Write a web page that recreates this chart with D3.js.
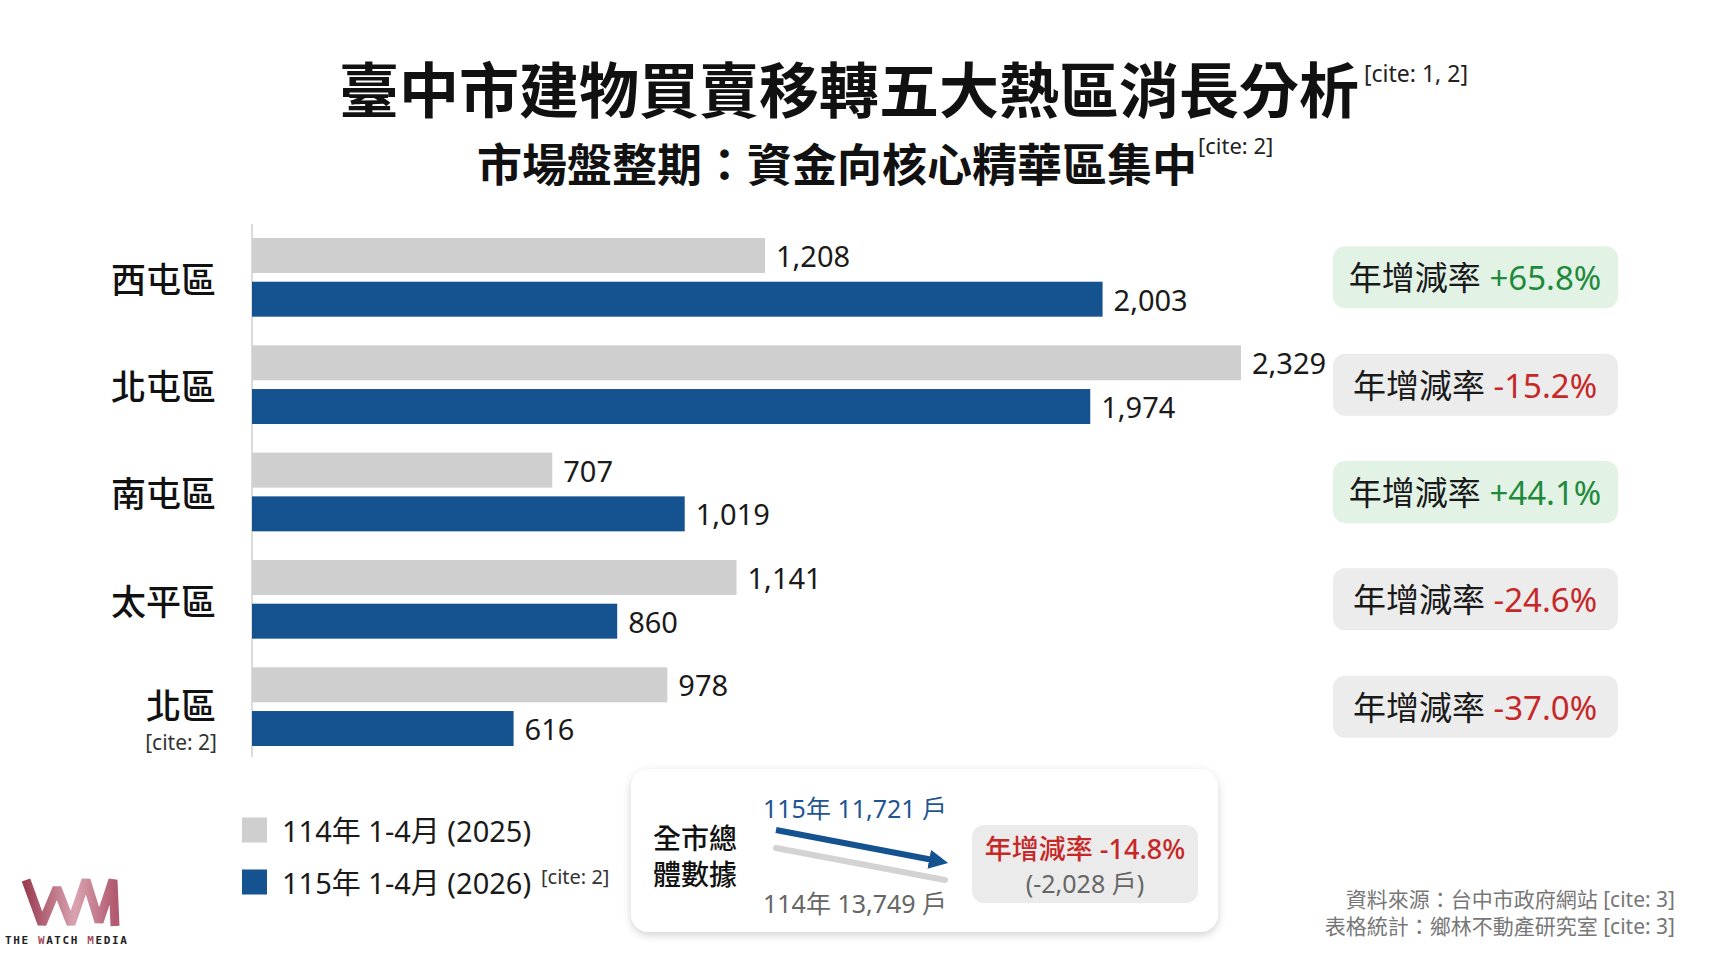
<!DOCTYPE html>
<html>
<head>
<meta charset="utf-8">
<script src="https://cdn.jsdelivr.net/npm/d3@7"></script>
<style>
  html, body { margin: 0; padding: 0; background: #fff; }
  svg { display: block; font-family: "Noto Sans", "Noto Sans CJK TC", sans-serif; }
</style>
</head>
<body>
<svg id="chart" width="1713" height="956"></svg>
<script>
// data
const districts = ['西屯區', '北屯區', '南屯區', '太平區', '北區'];
const sales2025 = [1208, 2329, 707, 1141, 978];
const sales2026 = [2003, 1974, 1019, 860, 616];
const seriesNames = ['114年 1-4月 (2025)', '115年 1-4月 (2026)'];
const total2025 = 13749;
const total2026 = 11721;

const W = 1713, H = 956;
const gray = '#cfcfcf', blue = '#155290';
const loc = d3.formatLocale({ decimal: '.', thousands: ',', grouping: [3], currency: ['', ''], minus: '-' });
const fmt = loc.format(',');
const pct = d => (d >= 0 ? '+' : '') + loc.format('.1f')(d * 100) + '%';

const svg = d3.select('#chart');

// drop shadow for the summary card
const defs = svg.append('defs');
const f = defs.append('filter').attr('id', 'shadow').attr('x', '-10%').attr('y', '-20%').attr('width', '120%').attr('height', '150%');
f.append('feDropShadow').attr('dx', 0).attr('dy', 3).attr('stdDeviation', 4).attr('flood-color', '#000').attr('flood-opacity', 0.18);
defs.append('marker').attr('id', 'arrow').attr('viewBox', '0 0 10 10').attr('refX', 2).attr('refY', 5)
  .attr('markerWidth', 3.2).attr('markerHeight', 3.2).attr('orient', 'auto')
  .append('path').attr('d', 'M0,0L10,5L0,10z').attr('fill', blue);
const lg = defs.append('linearGradient').attr('id', 'logoGrad').attr('x1', 0).attr('x2', 1);
lg.append('stop').attr('offset', '0%').attr('stop-color', '#9c3f55');
lg.append('stop').attr('offset', '55%').attr('stop-color', '#d9a3b0');
lg.append('stop').attr('offset', '100%').attr('stop-color', '#b25a70');

// titles
svg.append('text').attr('x', 849).attr('y', 86).attr('text-anchor', 'middle')
  .attr('dominant-baseline', 'central').attr('font-size', 60).attr('font-weight', 700)
  .attr('font-family', '"Noto Sans CJK TC", sans-serif').attr('fill', '#111')
  .text('臺中市建物買賣移轉五大熱區消長分析');
svg.append('text').attr('x', 1364).attr('y', 82).attr('font-size', 23).attr('fill', '#222')
  .attr('font-family', '"Noto Sans", sans-serif').text('[cite: 1, 2]');

svg.append('text').attr('x', 837).attr('y', 162).attr('text-anchor', 'middle')
  .attr('dominant-baseline', 'central').attr('font-size', 45).attr('font-weight', 700)
  .attr('font-family', '"Noto Sans CJK TC", sans-serif').attr('fill', '#111')
  .text('市場盤整期：資金向核心精華區集中');
svg.append('text').attr('x', 1198).attr('y', 154).attr('font-size', 22).attr('fill', '#222')
  .attr('font-family', '"Noto Sans", sans-serif').text('[cite: 2]');

// scales
const x = d3.scaleLinear().domain([0, 2329]).range([252, 1241]);
const y = d3.scaleBand().domain(districts).range([238, 746]).paddingInner(0.267).paddingOuter(0);
const ySub = d3.scaleBand().domain(['2025', '2026']).range([0, y.bandwidth()]).paddingInner(0.2);

const rows = districts.map((d, i) => ({ name: d, v25: sales2025[i], v26: sales2026[i], rate: sales2026[i] / sales2025[i] - 1 }));

// axis line
svg.append('line').attr('x1', 252).attr('x2', 252).attr('y1', 224).attr('y2', 757)
  .attr('stroke', '#dcdcdc').attr('stroke-width', 2);

const g = svg.append('g').selectAll('g').data(rows).join('g')
  .attr('transform', d => `translate(0,${y(d.name)})`);

const bars = [
  { key: '2025', val: d => d.v25, color: gray },
  { key: '2026', val: d => d.v26, color: blue }
];
bars.forEach(b => {
  g.append('rect').attr('x', x(0)).attr('y', ySub(b.key))
    .attr('width', d => x(b.val(d)) - x(0)).attr('height', ySub.bandwidth()).attr('fill', b.color);
  g.append('text').attr('x', d => x(b.val(d)) + 11).attr('y', ySub(b.key) + ySub.bandwidth() / 2)
    .attr('dominant-baseline', 'central').attr('font-size', 29).attr('fill', '#1a1a1a')
    .text(d => fmt(b.val(d)));
});

// category labels
g.append('text').attr('x', 216).attr('y', d => y.bandwidth() / 2 + (d.name === '北區' ? -3 : 0))
  .attr('text-anchor', 'end').attr('dominant-baseline', 'central')
  .attr('font-size', 35).attr('font-weight', 500).attr('fill', '#111')
  .attr('font-family', '"Noto Sans CJK TC", sans-serif')
  .text(d => d.name);
g.filter(d => d.name === '北區').append('text').attr('x', 217).attr('y', y.bandwidth() / 2 + 35)
  .attr('text-anchor', 'end').attr('dominant-baseline', 'central')
  .attr('font-size', 21).attr('fill', '#333').text('[cite: 2]');

// growth badges
const badge = g.append('g').attr('transform', `translate(1333,${y.bandwidth() / 2 - 31})`);
badge.append('rect').attr('width', 285).attr('height', 62).attr('rx', 12)
  .attr('fill', d => d.rate >= 0 ? '#e2f3e6' : '#ececec');
const bt = badge.append('text').attr('x', 142).attr('y', 31).attr('text-anchor', 'middle')
  .attr('dominant-baseline', 'central').attr('font-size', 33);
bt.append('tspan').attr('fill', '#1a1a1a').text('年增減率 ');
bt.append('tspan').attr('fill', d => d.rate >= 0 ? '#1f8a3b' : '#c62828').text(d => pct(d.rate));

// legend
const leg = svg.append('g').selectAll('g').data(seriesNames).join('g')
  .attr('transform', (d, i) => `translate(242,${830 + i * 52})`);
leg.append('rect').attr('y', -12.5).attr('width', 25).attr('height', 25).attr('fill', (d, i) => i ? blue : gray);
leg.append('text').attr('x', 40).attr('dominant-baseline', 'central').attr('font-size', 29)
  .attr('fill', '#1a1a1a').text(d => d);
leg.filter((d, i) => i === 1).append('text').attr('x', 299).attr('y', -6).attr('dominant-baseline', 'central')
  .attr('font-size', 20).attr('fill', '#333').text('[cite: 2]');

// summary card
const card = svg.append('g');
card.append('rect').attr('x', 631).attr('y', 769).attr('width', 587).attr('height', 163).attr('rx', 18)
  .attr('fill', '#fff').attr('filter', 'url(#shadow)');
card.selectAll('text.lab').data(['全市總', '體數據']).join('text').attr('class', 'lab')
  .attr('x', 653).attr('y', (d, i) => 837 + i * 36).attr('dominant-baseline', 'central')
  .attr('font-size', 28).attr('font-weight', 500).attr('fill', '#111')
  .attr('font-family', '"Noto Sans CJK TC", sans-serif').text(d => d);

card.append('line').attr('x1', 776).attr('y1', 848).attr('x2', 945).attr('y2', 848 + 32)
  .attr('stroke', '#d3d3d3').attr('stroke-width', 6).attr('stroke-linecap', 'round');
card.append('line').attr('x1', 776).attr('y1', 830).attr('x2', 933).attr('y2', 860)
  .attr('stroke', blue).attr('stroke-width', 6).attr('marker-end', 'url(#arrow)');
card.append('text').attr('x', 763).attr('y', 808).attr('dominant-baseline', 'central')
  .attr('font-size', 25).attr('fill', '#1f5592').text(`115年 ${fmt(total2026)} 戶`);
card.append('text').attr('x', 763).attr('y', 903).attr('dominant-baseline', 'central')
  .attr('font-size', 25).attr('fill', '#666').text(`114年 ${fmt(total2025)} 戶`);

card.append('rect').attr('x', 972).attr('y', 825).attr('width', 226).attr('height', 78).attr('rx', 12)
  .attr('fill', '#ebebeb');
card.append('text').attr('x', 1085).attr('y', 848).attr('text-anchor', 'middle').attr('dominant-baseline', 'central')
  .attr('font-size', 27).attr('font-weight', 500).attr('fill', '#c62828')
  .text('年增減率 ' + pct(total2026 / total2025 - 1));
card.append('text').attr('x', 1085).attr('y', 883).attr('text-anchor', 'middle').attr('dominant-baseline', 'central')
  .attr('font-size', 25).attr('fill', '#666').text(`(${fmt(total2026 - total2025)} 戶)`);

// source
svg.selectAll('text.src').data(['資料來源：台中市政府網站 [cite: 3]', '表格統計：鄉林不動產研究室 [cite: 3]'])
  .join('text').attr('class', 'src').attr('x', 1675).attr('y', (d, i) => 899 + i * 27)
  .attr('text-anchor', 'end').attr('dominant-baseline', 'central').attr('font-size', 21).attr('fill', '#777')
  .text(d => d);

// logo
const logo = svg.append('g');
logo.append('path').attr('d', 'M26,880 L42,924 L57,888 L71,924 L86,880 L99,922 L113,880 L115,926')
  .attr('fill', 'none').attr('stroke', 'url(#logoGrad)').attr('stroke-width', 9).attr('stroke-linejoin', 'bevel');
const lt = logo.append('text').attr('x', 5).attr('y', 940).attr('dominant-baseline', 'central')
  .attr('font-size', 11).attr('font-weight', 700).attr('letter-spacing', 1.6).attr('fill', '#222')
  .attr('font-family', '"DejaVu Sans Mono", monospace');
['THE ', 'W', 'ATCH ', 'M', 'EDIA'].forEach((s, i) => lt.append('tspan').attr('fill', i % 2 ? '#a84a60' : '#222').text(s));
</script>
</body>
</html>
